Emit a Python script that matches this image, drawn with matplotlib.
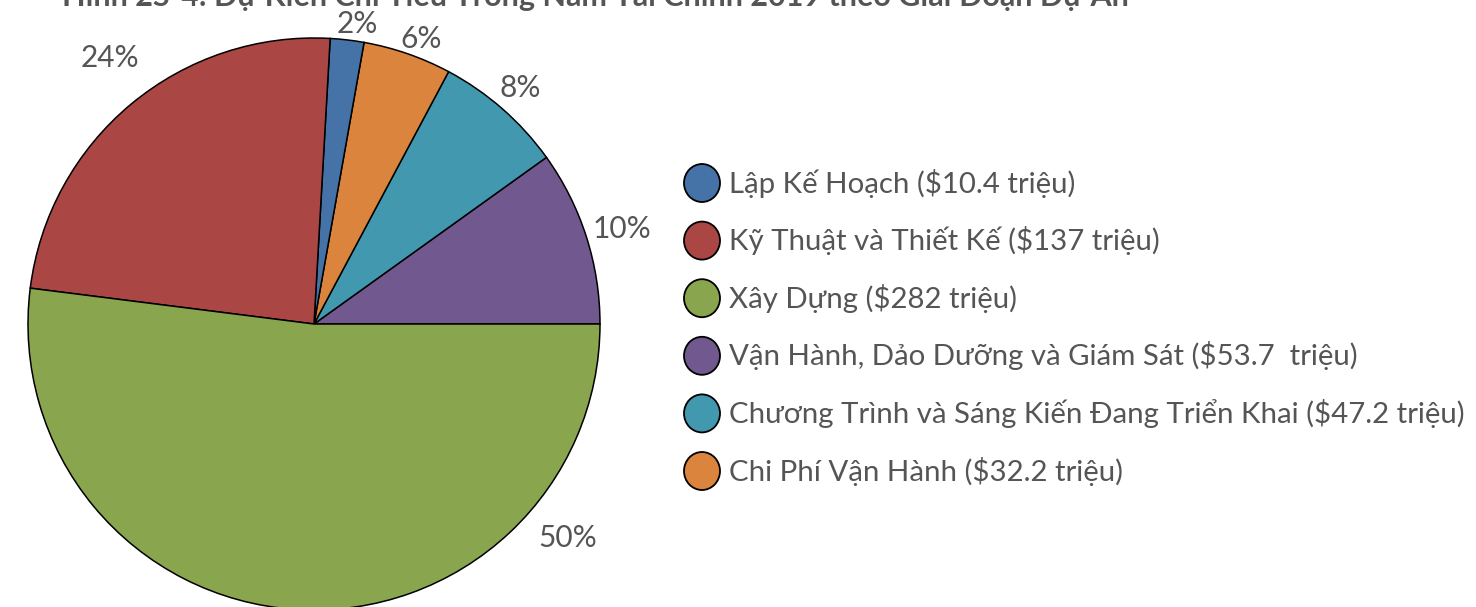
import numpy as np
import matplotlib
matplotlib.use("Agg")
import matplotlib.pyplot as plt
from matplotlib.patches import Ellipse

# ---- data ----
title = "Hình 2S-4: Dự Kiến Chi Tiêu Trong Năm Tài Chính 2019 theo Giai Đoạn Dự Án"
legend_labels = [
    "Lập Kế Hoạch ($10.4 triệu)",
    "Kỹ Thuật và Thiết Kế ($137 triệu)",
    "Xây Dựng ($282 triệu)",
    "Vận Hành, Dảo Dưỡng và Giám Sát ($53.7  triệu)",
    "Chương Trình và Sáng Kiến Đang Triển Khai ($47.2 triệu)",
    "Chi Phí Vận Hành ($32.2 triệu)",
]
legend_colors = ["#4572a7", "#aa4643", "#89a54e", "#71588f", "#4198af", "#db843d"]

# pie order (counter-clockwise from 3 o'clock)
pie_names = ["Vận Hành", "Chương Trình", "Chi Phí", "Lập Kế Hoạch", "Kỹ Thuật", "Xây Dựng"]
pie_shares = [9.9, 7.3, 5.0, 1.9, 23.9, 52.0]       # slice sizes as drawn
pie_pct_labels = ["10%", "8%", "6%", "2%", "24%", "50%"]
pie_colors = ["#71588f", "#4198af", "#db843d", "#4572a7", "#aa4643", "#89a54e"]

# ---- layout ----
W, H = 1476, 607
fig = plt.figure(figsize=(W / 100, H / 100), dpi=100)
ax = fig.add_axes([0, 0, 1, 1])

FONT = ["Lato", "DejaVu Sans"]
GRAY = "#555555"

cx, cy, R = 314, H - 324, 286
wedges, _ = ax.pie(pie_shares, colors=pie_colors, startangle=0, counterclock=True,
                   center=(cx, cy), radius=R, frame=True,
                   wedgeprops=dict(edgecolor="black", linewidth=1.1))
ax.set_xlim(0, W)
ax.set_ylim(0, H)
ax.set_aspect("equal")
ax.axis("off")

# label placement (angle deg, distance px) per slice
label_pos = [(17.1, 322), (48.9, 313), (69.4, 304), (81.8, 303), (127.5, 335), (-40.2, 332)]
for lab, (ang, dist) in zip(pie_pct_labels, label_pos):
    a = np.deg2rad(ang)
    ax.text(cx + dist * np.cos(a), cy + dist * np.sin(a), lab, ha="center", va="center",
            fontsize=21.5, color=GRAY, family=FONT)

# legend
lx, ly0, dy = 702, H - 183, 57.6
for i, (lab, col) in enumerate(zip(legend_labels, legend_colors)):
    y = ly0 - i * dy
    ax.add_patch(Ellipse((lx, y), 36, 38, facecolor=col, edgecolor="black", linewidth=1.3))
    ax.text(lx + 27, y, lab, ha="left", va="center", fontsize=21.2, color=GRAY, family=FONT)

# title (cropped at the top edge in the reference)
ax.text(62, H - 6, title, ha="left", va="baseline", fontsize=22, fontweight="bold",
        color=GRAY, family=FONT)

fig.savefig("out.png", dpi=100)
